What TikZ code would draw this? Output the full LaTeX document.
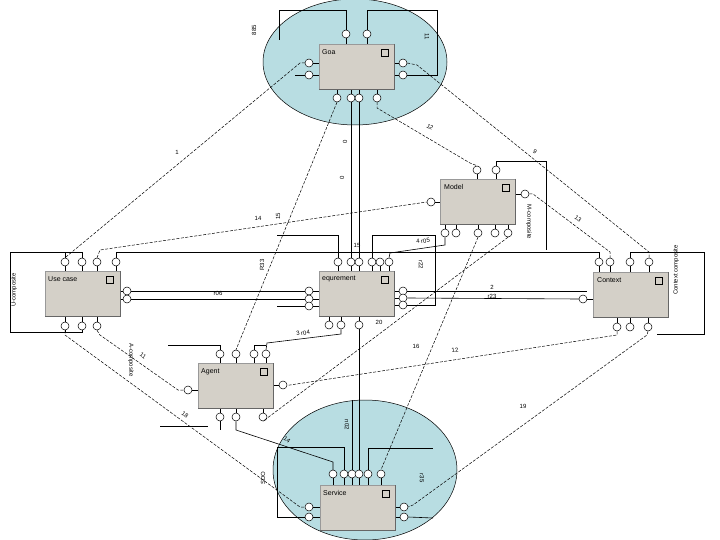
\documentclass[tikz,border=0pt]{standalone}
\usepackage{fontspec}
\setmainfont{Liberation Sans}
\definecolor{boxgray}{HTML}{D4D0C8}
\definecolor{ellblue}{HTML}{B8DDE2}
\begin{document}
\begin{tikzpicture}[x=1pt,y=-1pt,
 box/.style={draw=black!40, fill=boxgray, minimum width=75pt, minimum height=45pt, anchor=north west, inner sep=0, line width=0.7pt},
 port/.style={circle, draw, fill=white, minimum size=8pt, inner sep=0, line width=0.5pt},
 conn/.style={line width=0.6pt},
 dconn/.style={line width=0.5pt, dash pattern=on 3pt off 1.5pt},
 lbl/.style={font=\fontsize{6}{7}\selectfont, inner sep=0.5pt},
 ttl/.style={font=\fontsize{7}{8}\selectfont, anchor=north west, inner sep=0},
 icon/.style={draw, line width=0.6pt, minimum size=7pt, inner sep=0}
]
\useasboundingbox (0,0) rectangle (720,540);
\fill[white] (0,0) rectangle (720,540);
% ellipses
\draw[fill=ellblue, line width=0.5pt] (355,62) ellipse [x radius=92, y radius=63];
\draw[fill=ellblue, line width=0.5pt] (365,470) ellipse [x radius=92, y radius=70];

% boxes
\node[box] (goa) at (319,44) {};
\node[box] (model) at (440,179) {};
\node[box] (uc) at (45,271) {};
\node[box] (req) at (319,271) {};
\node[box] (ctx) at (593,272) {};
\node[box] (ag) at (198,363) {};
\node[box] (sv) at (320,485) {};
\foreach \b in {goa,model,uc,req,ctx,ag,sv}
  \draw[black!60, line width=0.8pt] (\b.north east) -- (\b.south east) -- (\b.south west);
\node[ttl] (goat) at (322,49) {Goa};
\node[ttl] (modelt) at (444,184) {Model};
\node[ttl] (uct) at (48,276) {Use case};
\node[ttl] (reqt) at (322,276) {equrement};
\node[ttl] (ctxt) at (597,277) {Context};
\node[ttl] (agt) at (201,368) {Agent};
\node[ttl] (svt) at (323,490) {Service};
\node[icon] (goai) at (385,53) {};
\node[icon] (modeli) at (506,188) {};
\node[icon] (uci) at (110,280) {};
\node[icon] (reqi) at (385,280) {};
\node[icon] (ctxi) at (659,281) {};
\node[icon] (agi) at (264,372) {};
\node[icon] (svi) at (386,494) {};

% ports Goa
\node[port] (gt1) at (346,34) {};
\node[port] (gt2) at (367,34) {};
\node[port] (gl1) at (309,63) {};
\node[port] (gl2) at (309,75) {};
\node[port] (gr1) at (403,63) {};
\node[port] (gr2) at (403,75) {};
\node[port] (gb1) at (337,98) {};
\node[port] (gb2) at (351,98) {};
\node[port] (gb3) at (359,98) {};
\node[port] (gb4) at (377,98) {};
% ports Model
\node[port] (mt1) at (477,170) {};
\node[port] (mt2) at (496,170) {};
\node[port] (ml) at (431,202) {};
\node[port] (mr) at (525,194) {};
\node[port] (mb1) at (445,233) {};
\node[port] (mb2) at (456,233) {};
\node[port] (mb3) at (478,233) {};
\node[port] (mb4) at (495,233) {};
\node[port] (mb5) at (508,233) {};
% ports Use case
\node[port] (ut1) at (65,262) {};
\node[port] (ut2) at (82,262) {};
\node[port] (ut3) at (97,262) {};
\node[port] (ut4) at (116,262) {};
\node[port] (ur1) at (127,291) {};
\node[port] (ur2) at (127,299) {};
\node[port] (ub1) at (65,326) {};
\node[port] (ub2) at (82,326) {};
\node[port] (ub3) at (97,326) {};
% ports requirement
\node[port] (rt1) at (338,262) {};
\node[port] (rt2) at (351,262) {};
\node[port] (rt3) at (359,262) {};
\node[port] (rt4) at (372,262) {};
\node[port] (rt5) at (380,262) {};
\node[port] (rt6) at (389,262) {};
\node[port] (rl1) at (309,291) {};
\node[port] (rl2) at (309,299) {};
\node[port] (rl3) at (309,306) {};
\node[port] (rr1) at (403,291) {};
\node[port] (rr2) at (403,298) {};
\node[port] (rr3) at (403,305) {};
\node[port] (rb1) at (329,325) {};
\node[port] (rb2) at (341,325) {};
\node[port] (rb3) at (359,325) {};
% ports Context
\node[port] (ct1) at (599,262) {};
\node[port] (ct2) at (610,262) {};
\node[port] (ct3) at (630,262) {};
\node[port] (ct4) at (649,262) {};
\node[port] (cl) at (583,299) {};
\coordinate (cl2) at (587,291);
\node[port] (cb1) at (617,327) {};
\node[port] (cb2) at (630,327) {};
\node[port] (cb3) at (648,327) {};
% ports Agent
\node[port] (at1) at (220,354) {};
\node[port] (at2) at (236,354) {};
\node[port] (at3) at (254,354) {};
\node[port] (at4) at (266,354) {};
\node[port] (al) at (188,390) {};
\node[port] (ar) at (283,385) {};
\node[port] (ab1) at (220,417) {};
\node[port] (ab2) at (236,417) {};
\node[port] (ab3) at (263,417) {};
% ports Service
\node[port] (st1) at (333,474) {};
\node[port] (st2) at (344,474) {};
\node[port] (st3) at (352,474) {};
\node[port] (st4) at (359,474) {};
\node[port] (st5) at (368,474) {};
\node[port] (st6) at (381,474) {};
\node[port] (sl1) at (309,507) {};
\node[port] (sl2) at (309,517) {};
\node[port] (sr1) at (404,507) {};
\node[port] (sr2) at (404,517) {};

% stubs port -> box
\foreach \p in {gt1,gt2} \draw[conn] (\p.south) -- (\p.south |- goa.north);
\foreach \p in {gb1,gb2,gb3,gb4} \draw[conn] (\p.north) -- (\p.north |- goa.south);
\foreach \p in {gl1,gl2} \draw[conn] (\p.east) -- (\p.east -| goa.west);
\foreach \p in {gr1,gr2} \draw[conn] (\p.west) -- (\p.west -| goa.east);
\foreach \p in {mt1,mt2} \draw[conn] (\p.south) -- (\p.south |- model.north);
\foreach \p in {mb1,mb2,mb3,mb4,mb5} \draw[conn] (\p.north) -- (\p.north |- model.south);
\draw[conn] (ml.east) -- (ml.east -| model.west);
\draw[conn] (mr.west) -- (mr.west -| model.east);
\foreach \p in {ut1,ut2,ut3,ut4} \draw[conn] (\p.south) -- (\p.south |- uc.north);
\foreach \p in {ub1,ub2,ub3} \draw[conn] (\p.north) -- (\p.north |- uc.south);
\foreach \p in {ur1,ur2} \draw[conn] (\p.west) -- (\p.west -| uc.east);
\foreach \p in {rt1,rt2,rt3,rt4,rt5,rt6} \draw[conn] (\p.south) -- (\p.south |- req.north);
\foreach \p in {rb1,rb2,rb3} \draw[conn] (\p.north) -- (\p.north |- req.south);
\foreach \p in {rl1,rl2,rl3} \draw[conn] (\p.east) -- (\p.east -| req.west);
\foreach \p in {rr1,rr2,rr3} \draw[conn] (\p.west) -- (\p.west -| req.east);
\foreach \p in {ct1,ct2,ct3,ct4} \draw[conn] (\p.south) -- (\p.south |- ctx.north);
\foreach \p in {cb1,cb2,cb3} \draw[conn] (\p.north) -- (\p.north |- ctx.south);
\draw[conn] (cl.east) -- (cl.east -| ctx.west);
\foreach \p in {at1,at2,at3,at4} \draw[conn] (\p.south) -- (\p.south |- ag.north);
\foreach \p in {ab1,ab2,ab3} \draw[conn] (\p.north) -- (\p.north |- ag.south);
\draw[conn] (al.east) -- (al.east -| ag.west);
\draw[conn] (ar.west) -- (ar.west -| ag.east);
\foreach \p in {st1,st2,st3,st4,st5,st6} \draw[conn] (\p.south) -- (\p.south |- sv.north);
\foreach \p in {sl1,sl2} \draw[conn] (\p.east) -- (\p.east -| sv.west);
\foreach \p in {sr1,sr2} \draw[conn] (\p.west) -- (\p.west -| sv.east);

% Goa connectors
\draw[conn] (gt1.north) |- (279,10) -- (279,40);
\draw[conn] (gt2.north) |- (437,10) |- (gr2.east);
\draw[conn] (gl2.west) -- (295,75);
\draw[dconn] (gl1.west) -- (300,63) -- (ut1.north);
\draw[dconn] (gr1.east) -- (417,65) -- (649,252) -- (ct4.north);
\draw[dconn] (gb1.south) -- (at2.north);
\draw[conn] (gb2.south) -- (rt2.north);
\draw[conn] (gb3.south) -- (rt3.north);
\draw[dconn] (gb4.south) -- (377,108) -- (470,163) -- (mt1.north);

% Model connectors
\draw[dconn] (ut3.north) -- (100,250) -- (ml.west);
\draw[dconn] (mr.east) -- (533,194) -- (610,252) -- (ct2.north);
\draw[conn] (mt2.north) |- (546,161) -- (546,250);
\draw[conn] (mb1.south) -- (445,245) -- (390,253) -- (rt6.north);
\draw[dconn] (mb3.south) -- (st6.north);
\draw[dconn] (mb5.south) -- (ab3.south);

% Use case connectors
\draw[conn] (ut2.north) |- (10,252) -- (10,332) -| (ub2.south);
\draw[conn] (ut1.north) -- (65,252);
\draw[conn] (ub1.south) -- (65,332);
\draw[conn] (ut4.north) |- (599,252) -- (ct1.north);
\draw[conn] (ur1.east) -- (rl1.west);
\draw[conn] (ur2.east) -- (rl2.west);
\draw[conn] (rl3.west) -- (277,306);
\draw[dconn] (ub1.south) -- (65,335) -- (300,507) -- (sl1.west);
\draw[dconn] (ub3.south) -- (100,335) -- (178,390) -- (al.west);

% requirement connectors
\draw[conn] (rr1.east) -- (cl2);
\draw[conn] (rr2.east) -- (cl.west);
\draw[conn] (rt4.north) |- (435,235) |- (rr3.east);
\draw[conn] (rt1.north) |- (277,235);
\draw[conn] (rb2.south) -- (341,334) -- (267,343) -- (at4.north);
\draw[conn] (rb3.south) -- (st4.north);

% Context connectors
\draw[conn] (ct3.north) |- (704,252) |- (657,334);
\draw[dconn] (cb1.south) -- (617,335) -- (290,385) -- (ar.east);
\draw[dconn] (cb3.south) -- (647,335) -- (413,505) -- (sr1.east);

% Agent connectors
\draw[conn] (at1.north) |- (168,345);
\draw[conn] (at3.north) |- (266,345);
\draw[conn] (ab1.south) -- (220,430);
\draw[conn] (ab2.south) -- (236,430) -- (333,462) -- (st1.north);
\draw[conn] (160,426) -- (208,426);

% Service connectors
\draw[conn] (st2.north) |- (277,447) |- (sl2.west);
\draw[conn] (st3.north) -- (352,400);
\draw[conn] (st5.north) |- (433,448);
\draw[conn] (sr2.east) -- (433,518);

% labels
\node[lbl, rotate=90] (l885) at (254,30) {885};
\node[lbl, rotate=-90] (l11a) at (427,37) {11};
\node[lbl] (l1) at (177,152) {1};
\node[lbl, rotate=-30] (l12a) at (430,127) {12};
\node[lbl, rotate=-35] (l9) at (535,152) {9};
\node[lbl, rotate=90] (l0a) at (345,142) {0};
\node[lbl, rotate=90] (l0b) at (342,178) {0};
\node[lbl] (l14a) at (258,218) {14};
\node[lbl, rotate=90] (l15a) at (278,216) {15};
\node[lbl, rotate=-35] (l13) at (578,219) {13};
\node[lbl, rotate=-90] (lmc) at (529,222) {M-composite};
\node[lbl] (l15b) at (357,245) {15};
\node[lbl, rotate=8] (lr05) at (423,241) {4 r05};
\node[lbl, rotate=-90] (lr22) at (421,265) {r22};
\node[lbl, rotate=90] (lr33) at (262,265) {R33};
\node[lbl] (lr06) at (218,293) {r06};
\node[lbl] (l2) at (492,287) {2};
\node[lbl] (lr23) at (492,296) {r23};
\node[lbl, rotate=90] (luc) at (14,290) {U-composite};
\node[lbl, rotate=90] (lcc) at (676,270) {Context composite};
\node[lbl, rotate=8] (lr04) at (303,333) {3 r04};
\node[lbl] (l20) at (379,322) {20};
\node[lbl] (l16) at (416,346) {16};
\node[lbl, rotate=8] (l12b) at (455,350) {12};
\node[lbl, rotate=-35] (l11b) at (143,356) {11};
\node[lbl, rotate=-90] (lac) at (131,360) {A-composite};
\node[lbl, rotate=-35] (l18) at (185,415) {18};
\node[lbl] (l19) at (523,406) {19};
\node[lbl, rotate=-35] (l14b) at (287,440) {14};
\node[lbl, rotate=-90] (ln02) at (347,425) {n02};
\node[lbl, rotate=90] (lsdo) at (263,478) {SDO};
\node[lbl, rotate=-90] (lr35) at (422,478) {r35};
\end{tikzpicture}
\end{document}
